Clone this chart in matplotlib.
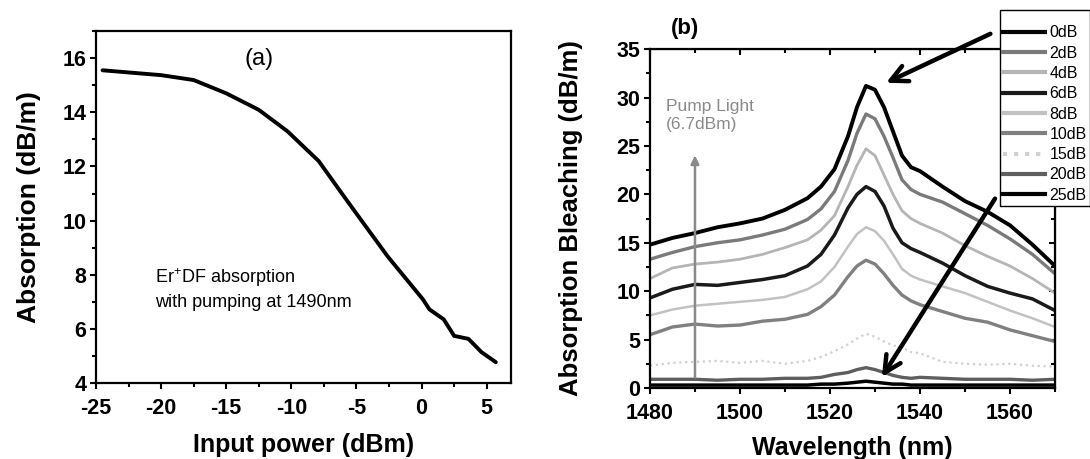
import numpy as np
import matplotlib
matplotlib.use("Agg")
import matplotlib.pyplot as plt
from matplotlib.ticker import MultipleLocator

plt.rcParams['font.family'] = ['Liberation Sans', 'DejaVu Sans']
plt.rcParams['mathtext.fontset'] = 'custom'
plt.rcParams['mathtext.rm'] = 'Liberation Sans'
plt.rcParams['mathtext.it'] = 'Liberation Sans:italic'
plt.rcParams['axes.unicode_minus'] = False

# (a) absorption vs input power
power = [-24.5, -20, -17.5, -15, -12.5, -10.3, -7.9, -6.1, -5.0, -2.6, 0.1, 0.6, 1.7, 2.5, 3.6, 4.6, 5.7]
absorption = [15.55, 15.37, 15.19, 14.7, 14.09, 13.3, 12.2, 10.99, 10.26, 8.68, 7.1, 6.73, 6.36, 5.75, 5.64, 5.15, 4.78]

# (b) absorption bleaching spectra
wl = [1480, 1485, 1490, 1495, 1500, 1505, 1510, 1515, 1518, 1521, 1524, 1526, 1528,
      1530, 1532, 1534, 1536, 1538, 1540, 1545, 1550, 1555, 1560, 1565, 1570]
b0 = [14.8, 15.5, 16.0, 16.6, 17.0, 17.5, 18.4, 19.6, 20.8, 22.6, 26.0, 29.0, 31.2,
      30.8, 29.0, 26.5, 24.0, 22.8, 22.4, 20.8, 19.3, 18.2, 16.8, 14.8, 12.6]
b2 = [13.3, 14.0, 14.6, 15.0, 15.3, 15.8, 16.4, 17.4, 18.5, 20.3, 23.5, 26.3, 28.3,
      27.8, 26.0, 23.8, 21.5, 20.5, 20.0, 19.2, 18.0, 16.8, 15.4, 13.8, 11.8]
b4 = [11.3, 12.4, 12.8, 13.0, 13.3, 13.8, 14.5, 15.3, 16.3, 17.8, 20.8, 23.0, 24.7,
      24.0, 22.0, 20.0, 18.3, 17.5, 17.0, 16.0, 14.7, 13.6, 12.6, 11.3, 9.8]
b6 = [9.3, 10.2, 10.7, 10.6, 10.9, 11.2, 11.6, 12.6, 13.8, 15.8, 18.6, 20.0, 20.8,
      20.3, 18.8, 16.5, 15.0, 14.4, 14.0, 12.9, 11.6, 10.5, 9.8, 9.2, 8.0]
b8 = [7.5, 8.1, 8.5, 8.7, 8.9, 9.1, 9.4, 10.2, 11.0, 12.5, 14.6, 15.9, 16.6,
      16.2, 15.2, 13.8, 12.3, 11.6, 11.2, 10.5, 9.8, 8.9, 8.0, 7.2, 6.3]
b10 = [5.5, 6.3, 6.6, 6.4, 6.5, 6.9, 7.1, 7.6, 8.4, 9.6, 11.5, 12.6, 13.2,
       12.8, 11.8, 10.6, 9.6, 9.0, 8.6, 7.9, 7.2, 6.8, 6.0, 5.4, 4.8]
b15 = [2.3, 2.6, 2.7, 2.8, 2.6, 2.8, 2.5, 2.8, 3.2, 3.8, 4.5, 5.1, 5.6,
       5.3, 4.8, 4.4, 4.2, 3.7, 3.6, 2.7, 2.5, 2.4, 2.5, 2.3, 2.2]
b20 = [0.9, 0.9, 0.9, 0.8, 0.9, 0.9, 1.0, 1.0, 1.1, 1.4, 1.6, 1.9, 2.1,
       1.9, 1.6, 1.3, 1.1, 1.0, 1.1, 1.0, 0.9, 0.9, 0.9, 0.8, 0.9]
b25 = [0.3, 0.3, 0.3, 0.3, 0.3, 0.3, 0.3, 0.3, 0.4, 0.4, 0.5, 0.6, 0.7,
       0.6, 0.5, 0.4, 0.4, 0.3, 0.3, 0.3, 0.3, 0.3, 0.3, 0.3, 0.3]
labels = ['0dB', '2dB', '4dB', '6dB', '8dB', '10dB', '15dB', '20dB', '25dB']
colors = ['black', '#7a7a7a', '#b5b5b5', '#1a1a1a', '#c2c2c2', '#808080', '#d0d0d0', '#5e5e5e', 'black']
widths = [2.8, 2.4, 2.0, 2.5, 1.8, 2.4, 1.6, 2.4, 2.5]
styles = ['-', '-', '-', '-', '-', '-', ':', '-', '-']

fig = plt.figure(figsize=(10.9, 4.59), dpi=100)

# ---- panel (a)
ax1 = fig.add_axes([0.0881, 0.1649, 0.4692 - 0.0881, 0.9325 - 0.1649])
ax1.plot(power, absorption, color='black', lw=2.8, solid_capstyle='round')
ax1.set_xlim(-25, 6.9)
ax1.set_ylim(4, 17)
ax1.xaxis.set_major_locator(MultipleLocator(5))
ax1.xaxis.set_minor_locator(MultipleLocator(2.5))
ax1.yaxis.set_major_locator(MultipleLocator(2))
ax1.yaxis.set_minor_locator(MultipleLocator(1))
ax1.tick_params(which='both', direction='out', width=1.5)
ax1.tick_params(which='major', length=4, labelsize=15.5)
ax1.tick_params(axis='x', which='major', pad=6.5)
ax1.tick_params(axis='y', which='major', pad=3)
ax1.tick_params(which='minor', length=3)
for lab in ax1.get_xticklabels() + ax1.get_yticklabels():
    lab.set_fontweight('bold')
for sp in ax1.spines.values():
    sp.set_linewidth(1.6)
ax1.set_xlabel('Input power (dBm)', fontsize=18, fontweight='bold', labelpad=10)
ax1.set_ylabel('Absorption (dB/m)', fontsize=19, fontweight='bold', labelpad=15)
ax1.text(-12.5, 15.95, '(a)', fontsize=17, ha='center', va='center')
ax1.text(-20.5, 7.5, 'Er$^{+}$DF absorption\nwith pumping at 1490nm', fontsize=13,
         ha='left', va='center', linespacing=1.35)

# ---- panel (b)
ax2 = fig.add_axes([0.5963, 0.1547, 0.9679 - 0.5963, 0.893 - 0.1547])
series = [b0, b2, b4, b6, b8, b10, b15, b20, b25]
lines = []
for s, lab, c, w, ls in zip(series, labels, colors, widths, styles):
    ln, = ax2.plot(wl, s, color=c, lw=w, ls=ls, label=lab)
    lines.append(ln)
ax2.set_xlim(1480, 1570)
ax2.set_ylim(0, 35)
ax2.xaxis.set_major_locator(MultipleLocator(20))
ax2.xaxis.set_minor_locator(MultipleLocator(10))
ax2.yaxis.set_major_locator(MultipleLocator(5))
ax2.yaxis.set_minor_locator(MultipleLocator(2.5))
ax2.tick_params(which='both', direction='out', width=1.5)
ax2.tick_params(which='major', length=4, labelsize=15.5)
ax2.tick_params(axis='x', which='major', pad=6.5)
ax2.tick_params(axis='y', which='major', pad=3)
ax2.tick_params(which='minor', length=3)
for lab in ax2.get_xticklabels() + ax2.get_yticklabels():
    lab.set_fontweight('bold')
for sp in ax2.spines.values():
    sp.set_linewidth(1.6)
# mirrored inward ticks on top and right
top = ax2.secondary_xaxis('top')
top.xaxis.set_major_locator(MultipleLocator(20))
top.xaxis.set_minor_locator(MultipleLocator(10))
top.tick_params(which='both', direction='in', width=1.5, labeltop=False)
top.tick_params(which='major', length=4)
top.tick_params(which='minor', length=3)
right = ax2.secondary_yaxis('right')
right.yaxis.set_major_locator(MultipleLocator(5))
right.yaxis.set_minor_locator(MultipleLocator(2.5))
right.tick_params(which='both', direction='in', width=1.5, labelright=False)
right.tick_params(which='major', length=4)
right.tick_params(which='minor', length=3)

ax2.set_xlabel('Wavelength (nm)', fontsize=18, fontweight='bold', labelpad=9)
ax2.set_ylabel('Absorption Bleaching (dB/m)', fontsize=18.5, fontweight='bold', labelpad=24)
ax2.text(1487.8, 37.1, '(b)', fontsize=16, fontweight='bold', ha='center', va='center', clip_on=False)

# pump light marker
ax2.annotate('', xy=(1490, 24.3), xytext=(1490, 0.8),
             arrowprops=dict(arrowstyle='-|>', color='#8a8a8a', lw=1.8, mutation_scale=12))
ax2.text(1483.6, 29.8, 'Pump Light\n(6.7dBm)', fontsize=12.5, color='#8a8a8a',
         ha='left', va='top', linespacing=1.25)

# black guide arrows
ax2.annotate('', xy=(1531.9, 31.4), xytext=(1556.2, 36.7),
             arrowprops=dict(arrowstyle='->', color='black', lw=3.2, mutation_scale=30),
             annotation_clip=False)
ax2.annotate('', xy=(1531.2, 0.9), xytext=(1557.0, 19.8),
             arrowprops=dict(arrowstyle='->', color='black', lw=3.2, mutation_scale=30),
             annotation_clip=False)

leg = fig.legend(handles=lines, loc='upper left', bbox_to_anchor=(1000 / 1090, 1 - 10 / 459),
                 fontsize=11.5, frameon=True, fancybox=False, framealpha=1,
                 edgecolor='black', handlelength=2.6, handletextpad=0.3,
                 labelspacing=0.33, borderpad=0.2, borderaxespad=0,
                 title=' ', title_fontsize=6, alignment='left')
leg.get_frame().set_linewidth(1.0)
for ln in leg.get_lines():
    ln.set_linewidth(3.0)

fig.savefig('out.png', dpi=100)
